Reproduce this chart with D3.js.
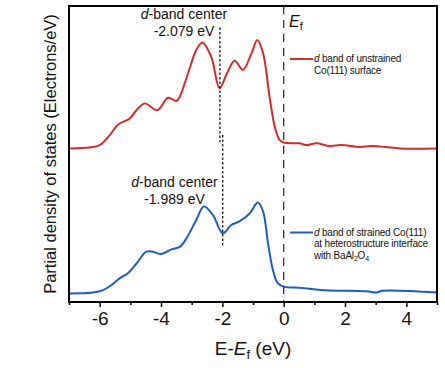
<!DOCTYPE html>
<html>
<head>
<meta charset="utf-8">
<script src="https://cdn.jsdelivr.net/npm/d3@7"></script>
<style>
  body { margin: 0; background: #fff; }
  svg { display: block; font-family: "Liberation Sans", Arial, sans-serif; }
</style>
</head>
<body>
<svg id="chart" width="445" height="368"></svg>
<script>
// energies (eV, relative to Ef) and d-band DOS
const redE = [-7, -6.33, -6, -5.67, -5.4, -5.02, -4.8, -4.53, -4.12, -3.77, -3.5, -3.39, -3.12, -2.85, -2.65, -2.36, -2.09, -1.85, -1.6, -1.33, -1.05, -0.86, -0.67, -0.46, -0.29, -0.13, 0.03, 0.52, 0.74, 1.07, 1.5, 1.88, 2.48, 2.9, 3.78, 5];
const redDos = [0, 0.03, 0.11, 0.45, 0.81, 1.01, 1.29, 1.52, 1.29, 1.71, 1.6, 1.74, 2.53, 3.32, 3.58, 3.09, 2.03, 2.53, 2.96, 2.65, 3.21, 3.66, 3.21, 1.74, 0.73, 0.28, 0.19, 0.17, 0.11, 0.17, 0.08, 0.11, 0.05, 0.08, 0, 0];
const blueE = [-7, -6.22, -5.89, -5.62, -5.35, -5.08, -4.8, -4.48, -4.26, -3.99, -3.66, -3.39, -3.17, -2.85, -2.6, -2.31, -1.98, -1.71, -1.43, -1.11, -0.84, -0.67, -0.51, -0.35, -0.19, 0.03, 0.52, 1.34, 2.7, 3.02, 3.24, 5];
const blueDos = [0, 0.03, 0.11, 0.28, 0.51, 0.68, 1.01, 1.41, 1.41, 1.33, 1.49, 1.57, 1.86, 2.48, 2.94, 2.65, 2.03, 2.31, 2.44, 2.7, 3.07, 2.76, 1.69, 0.79, 0.34, 0.22, 0.19, 0.11, 0.07, 0.03, 0.09, 0.03];
// vertical stacking offsets of the two curves
const redOffset = 5.19;
const blueOffset = 0.29;
const majorTicks = [-6, -4, -2, 0, 2, 4];
const minorTicks = [-7, -5, -3, -1, 1, 3, 5];
const dCenters = [-2.079, -1.989];

const svg = d3.select("#chart");
const margin = {left: 69, right: 8, top: 6, bottom: 66};
const width = 445 - margin.left - margin.right,
      height = 368 - margin.top - margin.bottom;

const x = d3.scaleLinear().domain([-7, 5]).range([0, width]);
const y = d3.scaleLinear().domain([0, 10]).range([height, 0]);

const g = svg.append("g").attr("transform", `translate(${margin.left},${margin.top})`);

const line = d3.line()
    .x(d => x(d[0]))
    .y(d => y(d[1]))
    .curve(d3.curveCatmullRom.alpha(0.5));

// curves
g.append("path")
    .datum(redE.map((e, i) => [e, redDos[i] + redOffset]))
    .attr("fill", "none")
    .attr("stroke", "#d42b2b")
    .attr("stroke-width", 2)
    .attr("d", line);

g.append("path")
    .datum(blueE.map((e, i) => [e, blueDos[i] + blueOffset]))
    .attr("fill", "none")
    .attr("stroke", "#1c5cc4")
    .attr("stroke-width", 2)
    .attr("d", line);

// Fermi level
g.append("line")
    .attr("x1", x(0)).attr("x2", x(0))
    .attr("y1", 0).attr("y2", height)
    .attr("stroke", "#333")
    .attr("stroke-width", 1.3)
    .attr("stroke-dasharray", "8,6");

// d-band centres
const centreSpans = [[9.27, 5.4], [5.64, 1.86]];
dCenters.forEach((c, i) => {
    g.append("line")
        .attr("x1", x(c)).attr("x2", x(c))
        .attr("y1", y(centreSpans[i][0])).attr("y2", y(centreSpans[i][1]))
        .attr("stroke", "#222")
        .attr("stroke-width", 1.4)
        .attr("stroke-dasharray", "2.5,2");
});

// bottom axis
const axis = g.append("g").attr("transform", `translate(0,${height})`);
axis.call(d3.axisBottom(x).tickValues(majorTicks).tickSize(5).tickPadding(5)
    .tickFormat(d => d < 0 ? "-" + Math.abs(d) : d));
axis.append("g").call(d3.axisBottom(x).tickValues(minorTicks).tickSize(3).tickFormat(() => ""));
axis.selectAll(".domain").remove();
axis.selectAll("line").attr("stroke", "#000").attr("stroke-width", 1.5);
axis.selectAll("text")
    .attr("fill", "#111")
    .style("font-size", "19px");

// frame
g.append("rect")
    .attr("width", width).attr("height", height)
    .attr("fill", "none")
    .attr("stroke", "#000")
    .attr("stroke-width", 2);

// axis titles
const xt = svg.append("text")
    .attr("x", margin.left + width / 2)
    .attr("y", 355)
    .attr("text-anchor", "middle")
    .style("font-size", "19px")
    .attr("fill", "#111");
xt.append("tspan").text("E-");
xt.append("tspan").attr("font-style", "italic").text("E");
xt.append("tspan").attr("font-size", "13px").attr("dy", 4).text("f");
xt.append("tspan").attr("dy", -4).text(" (eV)");

svg.append("text")
    .attr("transform", "translate(56,154) rotate(-90)")
    .attr("text-anchor", "middle")
    .style("font-size", "16.5px")
    .attr("fill", "#111")
    .text("Partial density of states (Electrons/eV)");

// Ef label
const ef = svg.append("text")
    .attr("x", 289).attr("y", 27)
    .style("font-size", "16px")
    .attr("fill", "#111");
ef.append("tspan").attr("font-style", "italic").text("E");
ef.append("tspan").attr("font-size", "11px").attr("dy", 3).text("f");

// d-band centre annotations
const notes = [
    {x: 184, y: 19, value: "-2.079 eV"},
    {x: 174.5, y: 187, value: "-1.989 eV"}
];
notes.forEach(n => {
    const t = svg.append("text")
        .attr("x", n.x).attr("y", n.y)
        .attr("text-anchor", "middle")
        .style("font-size", "14px")
        .attr("fill", "#111");
    t.append("tspan").attr("font-style", "italic").text("d");
    t.append("tspan").text("-band center");
    svg.append("text")
        .attr("x", n.x).attr("y", n.y + 17)
        .attr("text-anchor", "middle")
        .style("font-size", "14px")
        .attr("fill", "#111")
        .text(n.value);
});

// legends
const legends = [
    {y: 59, color: "#d42b2b", lines: [["d", " band of unstrained"], ["", "Co(111) surface"]]},
    {y: 232.5, color: "#1c5cc4", lines: [["d", " band of strained Co(111)"], ["", "at heterostructure interface"], ["", "with BaAl", "2", "O", "4"]]}
];
legends.forEach(l => {
    svg.append("line")
        .attr("x1", 290).attr("x2", 313)
        .attr("y1", l.y).attr("y2", l.y)
        .attr("stroke", l.color)
        .attr("stroke-width", 2);
    l.lines.forEach((parts, i) => {
        const t = svg.append("text")
            .attr("x", 314).attr("y", l.y + 3 + i * 11.8)
            .style("font-size", "10px")
            .style("letter-spacing", "-0.2px")
            .attr("fill", "#111");
        if (parts[0]) t.append("tspan").attr("font-style", "italic").text(parts[0]);
        t.append("tspan").text(parts[1]);
        if (parts.length > 2) {
            t.append("tspan").attr("font-size", "7px").attr("dy", 2).text(parts[2]);
            t.append("tspan").attr("dy", -2).text(parts[3]);
            t.append("tspan").attr("font-size", "7px").attr("dy", 2).text(parts[4]);
        }
    });
});
</script>
</body>
</html>
